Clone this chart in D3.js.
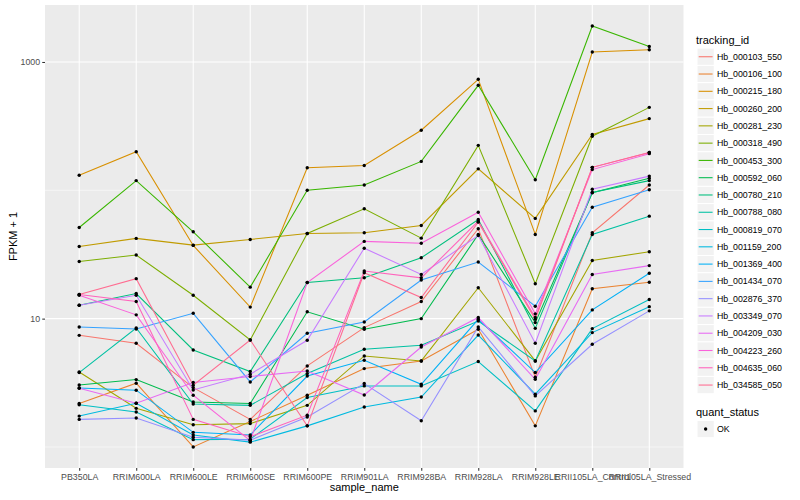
<!DOCTYPE html>
<html>
<head>
<meta charset="utf-8">
<script src="https://cdn.jsdelivr.net/npm/d3@7"></script>
<style>
  body { margin: 0; background: #fff; }
  svg text { font-family: "Liberation Sans", Arial, Helvetica, sans-serif; }
</style>
</head>
<body>
<svg width="800" height="500"></svg>
<script>
// samples on the x axis
const samples = ['PB350LA', 'RRIM600LA', 'RRIM600LE', 'RRIM600SE', 'RRIM600PE', 'RRIM901LA',
    'RRIM928BA', 'RRIM928LA', 'RRIM928LE', 'RRII105LA_Control', 'RRII105LA_Stressed'];

const trackingIds = ['Hb_000103_550', 'Hb_000106_100', 'Hb_000215_180', 'Hb_000260_200', 'Hb_000281_230',
    'Hb_000318_490', 'Hb_000453_300', 'Hb_000592_060', 'Hb_000780_210', 'Hb_000788_080', 'Hb_000819_070',
    'Hb_001159_200', 'Hb_001369_400', 'Hb_001434_070', 'Hb_002876_370', 'Hb_003349_070', 'Hb_004209_030',
    'Hb_004223_260', 'Hb_004635_060', 'Hb_034585_050'];

// FPKM + 1 per sample, one array per gene
const hb_000103_550 = [7.41, 6.43, 2.90, 1.64, 4.28, 8.51, 13.6, 50.2, 3.49, 46.7, 110];
const hb_000106_100 = [2.18, 3.14, 1.00, 1.58, 2.53, 4.08, 4.68, 8.26, 1.46, 17.1, 19.2];
const hb_000215_180 = [131, 200, 37.2, 12.3, 150, 156, 294, 733, 45.3, 1197, 1247];
const hb_000260_200 = [36.5, 42.2, 37.4, 41.4, 46.1, 46.7, 53.2, 147, 60.4, 272, 362];
const hb_000281_230 = [3.84, 2.00, 1.49, 1.52, 2.11, 5.12, 4.68, 17.4, 4.68, 28.4, 33.2];
const hb_000318_490 = [27.9, 31.3, 15.2, 6.82, 46.1, 71.8, 42.4, 224, 18.7, 264, 443];
const hb_000453_300 = [51.3, 119, 47.5, 17.6, 100, 110, 168, 658, 121, 1906, 1322];
const hb_000592_060 = [3.04, 3.35, 2.24, 2.18, 11.3, 8.26, 10.0, 45.3, 9.31, 95.6, 124];
const hb_000780_210 = [12.7, 15.7, 5.70, 3.87, 19.1, 20.8, 29.8, 59.3, 8.40, 96.1, 119];
const hb_000788_080 = [3.80, 8.45, 2.16, 2.11, 3.73, 5.77, 6.20, 9.58, 4.68, 45.3, 62.9];
const hb_000819_070 = [2.13, 1.87, 1.14, 1.15, 2.43, 2.99, 2.99, 4.63, 1.91, 8.36, 14.1];
const hb_001159_200 = [1.74, 2.19, 1.24, 1.09, 1.46, 2.05, 2.45, 7.45, 2.58, 7.78, 12.4];
const hb_001369_400 = [2.88, 2.77, 1.30, 1.24, 3.57, 4.74, 3.08, 9.88, 3.80, 11.7, 22.6];
const hb_001434_070 = [8.61, 8.30, 11.0, 3.21, 7.69, 9.41, 20.0, 27.6, 12.5, 73.8, 101];
const hb_002876_370 = [1.64, 1.68, 1.19, 1.13, 1.71, 3.12, 1.60, 8.61, 2.50, 6.31, 11.5];
const hb_003349_070 = [12.7, 15.2, 2.78, 3.69, 6.78, 35.4, 22.1, 44.5, 6.43, 102, 129];
const hb_004209_030 = [2.87, 2.19, 3.18, 3.54, 3.91, 2.54, 6.01, 10.2, 3.37, 22.1, 25.9];
const hb_004223_260 = [15.2, 10.7, 2.53, 1.12, 19.1, 40.0, 38.7, 67.5, 10.9, 145, 193];
const hb_004635_060 = [15.4, 13.6, 1.64, 1.20, 1.77, 23.5, 20.8, 57.5, 10.2, 151, 197];
const hb_034585_050 = [15.4, 20.5, 3.03, 6.82, 1.46, 22.8, 14.6, 56.5, 9.88, 151, 197];

const seriesValues = [hb_000103_550, hb_000106_100, hb_000215_180, hb_000260_200, hb_000281_230,
    hb_000318_490, hb_000453_300, hb_000592_060, hb_000780_210, hb_000788_080, hb_000819_070,
    hb_001159_200, hb_001369_400, hb_001434_070, hb_002876_370, hb_003349_070, hb_004209_030,
    hb_004223_260, hb_004635_060, hb_034585_050];

const yMajorTicks = [10, 1000];
const yMinorTicks = [1, 100];
const quantStatus = ['OK'];

// ggplot hue palette, 20 levels
const colors = ['#F8766D', '#EA8331', '#D89000', '#C09B00', '#A3A500', '#7CAE00', '#39B600', '#00BB4E',
    '#00BF7D', '#00C1A3', '#00BFC4', '#00BAE0', '#00B0F6', '#35A2FF', '#9590FF', '#C77CFF', '#E76BF3',
    '#FA62DB', '#FF62BC', '#FF6C91'];

const svg = d3.select('svg');
svg.append('rect').attr('width', 800).attr('height', 500).attr('fill', '#fff');

const panelLeft = 45, panelRight = 683.5, panelTop = 5, panelBottom = 468;

const x = d3.scalePoint()
    .domain(samples)
    .range([panelLeft, panelRight])
    .padding(0.6);

// 5% expansion in log space like ggplot
const all = seriesValues.flat();
const lo = Math.log10(d3.min(all)), hi = Math.log10(d3.max(all));
const pad = (hi - lo) * 0.05;
const y = d3.scaleLog()
    .domain([Math.pow(10, lo - pad), Math.pow(10, hi + pad)])
    .range([panelBottom, panelTop]);

// panel
svg.append('rect')
    .attr('x', panelLeft).attr('y', panelTop)
    .attr('width', panelRight - panelLeft).attr('height', panelBottom - panelTop)
    .attr('fill', '#EBEBEB');

const grid = svg.append('g');
grid.selectAll('.minor')
    .data(yMinorTicks.filter(d => y(d) > panelTop && y(d) < panelBottom))
    .enter().append('line')
    .attr('x1', panelLeft).attr('x2', panelRight)
    .attr('y1', d => y(d)).attr('y2', d => y(d))
    .attr('stroke', '#fff').attr('stroke-width', 0.53);
grid.selectAll('.major')
    .data(yMajorTicks)
    .enter().append('line')
    .attr('x1', panelLeft).attr('x2', panelRight)
    .attr('y1', d => y(d)).attr('y2', d => y(d))
    .attr('stroke', '#fff').attr('stroke-width', 1.07);
grid.selectAll('.vert')
    .data(samples)
    .enter().append('line')
    .attr('x1', d => x(d)).attr('x2', d => x(d))
    .attr('y1', panelTop).attr('y2', panelBottom)
    .attr('stroke', '#fff').attr('stroke-width', 1.07);

// lines
const line = d3.line()
    .x((d, i) => x(samples[i]))
    .y(d => y(d));

svg.append('g')
    .selectAll('path')
    .data(seriesValues)
    .enter().append('path')
    .attr('d', d => line(d))
    .attr('fill', 'none')
    .attr('stroke', (d, i) => colors[i])
    .attr('stroke-width', 1.07);

// points
const pts = [];
seriesValues.forEach(s => s.forEach((v, i) => pts.push({ s: samples[i], v: v })));
svg.append('g')
    .selectAll('circle')
    .data(pts)
    .enter().append('circle')
    .attr('cx', d => x(d.s))
    .attr('cy', d => y(d.v))
    .attr('r', 1.7)
    .attr('fill', '#000');

// axes
const yAxis = svg.append('g')
    .attr('transform', `translate(${panelLeft}, 0)`)
    .call(d3.axisLeft(y).tickValues(yMajorTicks).tickSize(2.74).tickPadding(2.2).tickFormat(d3.format('d')));
const xAxis = svg.append('g')
    .attr('transform', `translate(0, ${panelBottom})`)
    .call(d3.axisBottom(x).tickSize(2.74).tickPadding(2.2));

[yAxis, xAxis].forEach(a => {
    a.select('.domain').remove();
    a.selectAll('.tick line').attr('stroke', '#333333').attr('stroke-width', 1.07);
    a.selectAll('.tick text').attr('fill', '#4D4D4D').attr('font-size', 8.8)
        .style('font-family', '"Liberation Sans", Arial, sans-serif');
});
xAxis.selectAll('.tick text').attr('dy', '0.75em');

svg.append('text')
    .attr('x', (panelLeft + panelRight) / 2)
    .attr('y', 491)
    .attr('text-anchor', 'middle')
    .attr('font-size', 11)
    .text('sample_name');

svg.append('text')
    .attr('transform', `translate(16.5, ${(panelTop + panelBottom) / 2}) rotate(-90)`)
    .attr('text-anchor', 'middle')
    .attr('font-size', 11)
    .text('FPKM + 1');

// legend: tracking_id
const keySize = 17.28;
const legendX = 697;
const legend = svg.append('g');
legend.append('text')
    .attr('x', 696).attr('y', 44)
    .attr('font-size', 11)
    .text('tracking_id');

const items = legend.selectAll('.item')
    .data(trackingIds)
    .enter().append('g')
    .attr('transform', (d, i) => `translate(${legendX}, ${48.1 + i * keySize})`);
items.append('rect')
    .attr('width', keySize).attr('height', keySize)
    .attr('fill', '#F2F2F2').attr('stroke', '#fff').attr('stroke-width', 1);
items.append('line')
    .attr('x1', 1.7).attr('x2', keySize - 1.7)
    .attr('y1', keySize / 2).attr('y2', keySize / 2)
    .attr('stroke', (d, i) => colors[i]).attr('stroke-width', 1.07);
items.append('text')
    .attr('x', keySize + 2.6).attr('y', keySize / 2 + 3.1)
    .attr('font-size', 8.8)
    .text(d => d);

// legend: quant_status
const legend2 = svg.append('g');
legend2.append('text')
    .attr('x', 696).attr('y', 416)
    .attr('font-size', 11)
    .text('quant_status');
const items2 = legend2.selectAll('.item')
    .data(quantStatus)
    .enter().append('g')
    .attr('transform', (d, i) => `translate(${legendX}, ${420.4 + i * keySize})`);
items2.append('rect')
    .attr('width', keySize).attr('height', keySize)
    .attr('fill', '#F2F2F2').attr('stroke', '#fff').attr('stroke-width', 1);
items2.append('circle')
    .attr('cx', keySize / 2).attr('cy', keySize / 2).attr('r', 1.7)
    .attr('fill', '#000');
items2.append('text')
    .attr('x', keySize + 2.6).attr('y', keySize / 2 + 3.1)
    .attr('font-size', 8.8)
    .text(d => d);
</script>
</body>
</html>
